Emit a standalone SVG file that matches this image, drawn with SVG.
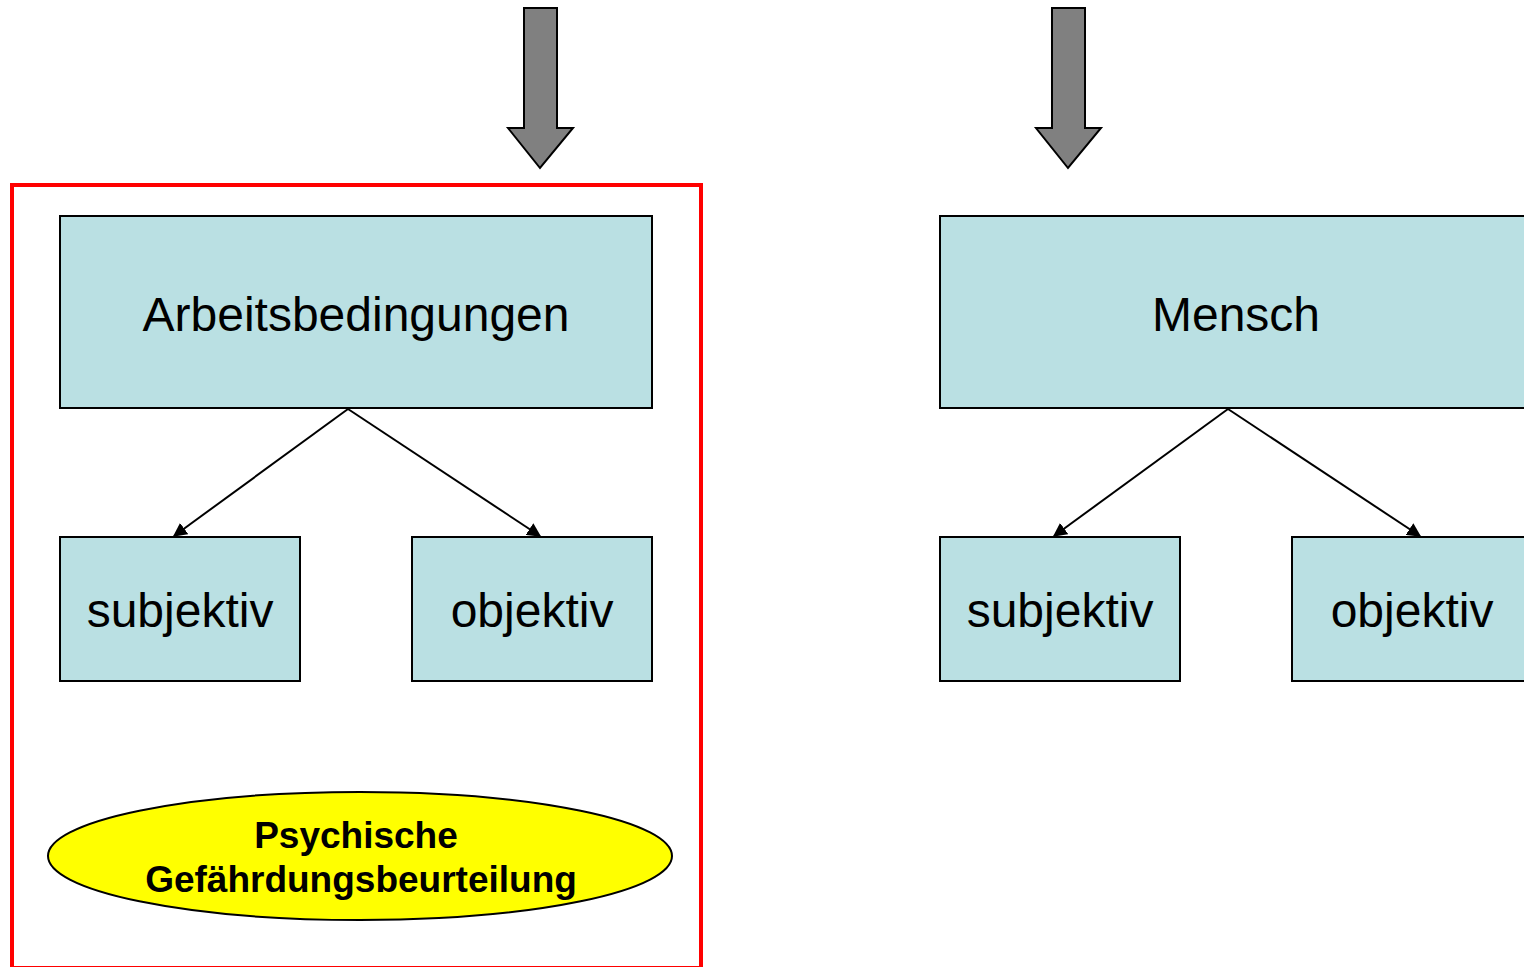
<svg xmlns="http://www.w3.org/2000/svg" width="1524" height="967" viewBox="0 0 1524 967">
<defs>
<style>
.box{fill:#bae0e3;stroke:#000;stroke-width:2}
.lbl{font-family:"Liberation Sans",Arial,sans-serif;font-size:48px;fill:#000;text-anchor:middle}
.bold{font-family:"Liberation Sans",Arial,sans-serif;font-size:37px;font-weight:bold;fill:#000;text-anchor:middle}
.big{fill:#808080;stroke:#000;stroke-width:2;stroke-linejoin:miter}
.conn{stroke:#000;stroke-width:2;fill:none;marker-end:url(#ah)}
</style>
<marker id="ah" viewBox="0 0 10 10" refX="9" refY="5" markerWidth="14" markerHeight="14" markerUnits="userSpaceOnUse" orient="auto">
<path d="M0,0 L10,5 L0,10 z" fill="#000"/>
</marker>
</defs>
<rect width="1524" height="967" fill="#fff"/>
<g id="arrow1"><path class="big" d="M524,8 H557 V128 H573 L540,168 L508,128 H524 Z"/></g>
<g id="arrow2"><path class="big" d="M1052,8 H1085 V128 H1101 L1068,168 L1036,128 H1052 Z"/></g>
<g id="frame"><rect x="12" y="185" width="689" height="783" fill="none" stroke="#f00" stroke-width="4"/></g>
<g id="arbeitsbedingungen"><rect class="box" x="60" y="216" width="592" height="192"/><text class="lbl" x="356" y="331">Arbeitsbedingungen</text></g>
<g id="subjektiv1"><rect class="box" x="60" y="537" width="240" height="144"/><text class="lbl" x="180" y="627">subjektiv</text></g>
<g id="objektiv1"><rect class="box" x="412" y="537" width="240" height="144"/><text class="lbl" x="532" y="627">objektiv</text></g>
<g id="mensch"><rect class="box" x="940" y="216" width="600" height="192"/><text class="lbl" x="1236" y="331">Mensch</text></g>
<g id="subjektiv2"><rect class="box" x="940" y="537" width="240" height="144"/><text class="lbl" x="1060" y="627">subjektiv</text></g>
<g id="objektiv2"><rect class="box" x="1292" y="537" width="240" height="144"/><text class="lbl" x="1412" y="627">objektiv</text></g>
<g id="gefaehrdung"><ellipse cx="360" cy="856" rx="312" ry="64" fill="#ffff00" stroke="#000" stroke-width="2"/><text class="bold" x="356" y="848">Psychische</text><text class="bold" x="361" y="892">Gefährdungsbeurteilung</text></g>
<g id="connectors">
<line class="conn" x1="348" y1="409" x2="174" y2="536"/>
<line class="conn" x1="348" y1="409" x2="540" y2="536"/>
<line class="conn" x1="1228" y1="409" x2="1054" y2="536"/>
<line class="conn" x1="1228" y1="409" x2="1420" y2="536"/>
</g>
</svg>
